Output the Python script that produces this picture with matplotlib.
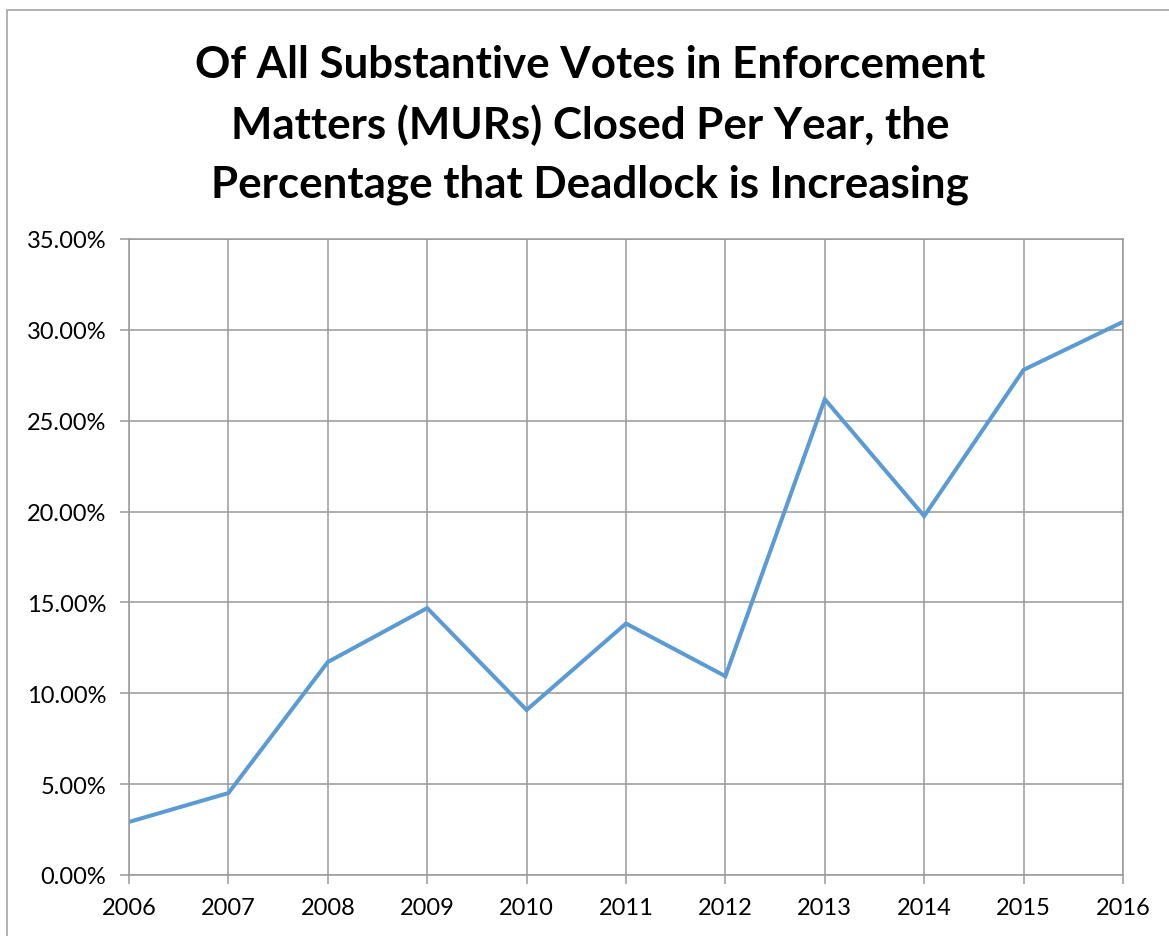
import matplotlib
matplotlib.use("Agg")
import matplotlib.pyplot as plt
from matplotlib.patches import Rectangle
from matplotlib.ticker import FuncFormatter, MultipleLocator

plt.rcParams["font.family"] = ["Lato", "DejaVu Sans"]

years = [2006, 2007, 2008, 2009, 2010, 2011, 2012, 2013, 2014, 2015, 2016]
deadlock_pct = [2.92, 4.51, 11.72, 14.69, 9.08, 13.84, 10.94, 26.18, 19.75, 27.80, 30.44]

TITLE = ("Of All Substantive Votes in Enforcement\n"
         "Matters (MURs) Closed Per Year, the\n"
         "Percentage that Deadlock is Increasing")

GRID = "#999999"
LINE = "#5B9BD5"

fig = plt.figure(figsize=(11.69, 9.37), dpi=100)
fig.patches.append(Rectangle((7 / 1169, -0.1), 1.2, (937 - 11) / 937 + 0.1,
                             transform=fig.transFigure, fill=False,
                             edgecolor="#a6a6a6", lw=1.2))

ax = fig.add_axes([129 / 1169, 61 / 937, 994 / 1169, 636 / 937])
ax.plot(years, deadlock_pct, color=LINE, lw=2.9, solid_joinstyle="miter")

ax.set_xlim(years[0], years[-1])
ax.set_ylim(0, 35)
ax.set_xticks(years)
ax.yaxis.set_major_locator(MultipleLocator(5))
ax.yaxis.set_major_formatter(FuncFormatter(lambda v, _: f"{v:.2f}%"))
ax.grid(True, color=GRID, lw=1.1)
ax.set_axisbelow(True)
for s in ax.spines.values():
    s.set_color(GRID)
    s.set_linewidth(1.1)
ax.tick_params(axis="both", direction="out", length=6.5, width=1.1,
               color=GRID, labelsize=17, pad=10, labelcolor="black")
ax.tick_params(axis="x", pad=9)

fig.text(0.505, 0.952, TITLE, ha="center", va="top", fontsize=31.6,
         fontweight="bold", linespacing=1.56)

fig.savefig("out.png", dpi=100)
